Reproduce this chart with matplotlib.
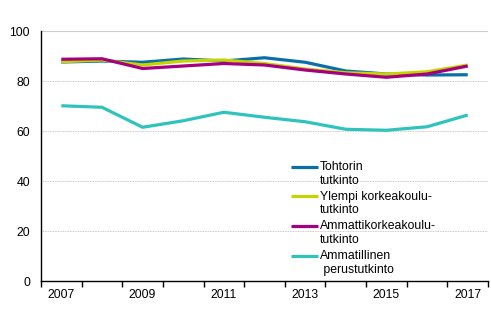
import matplotlib.pyplot as plt
import numpy as np
from matplotlib.legend_handler import HandlerLine2D

plt.rcParams['font.family'] = ['Liberation Sans', 'DejaVu Sans']

years = ['2007', '2008', '2009', '2010', '2011', '2012', '2013', '2014', '2015', '2016', '2017']
tohtori = [87.6, 88.0, 87.5, 88.8, 88.0, 89.3, 87.5, 84.0, 82.8, 82.4, 82.5]
ylempi = [87.7, 88.4, 86.4, 88.0, 88.4, 87.0, 84.8, 83.3, 82.8, 83.7, 86.4]
amk = [88.7, 88.9, 85.0, 86.0, 87.0, 86.4, 84.4, 82.8, 81.5, 82.8, 86.0]
ammatillinen = [70.1, 69.5, 61.5, 64.1, 67.5, 65.5, 63.7, 60.7, 60.3, 61.7, 66.4]

labels = ['Tohtorin\ntutkinto', 'Ylempi korkeakoulu-\ntutkinto',
          'Ammattikorkeakoulu-\ntutkinto', 'Ammatillinen\n perustutkinto']
colors = ['#0a6fa8', '#c5d400', '#a5007f', '#2ec4bc']
fs = 8.8


# legend line sits next to the first text line, not in the middle
class TopLine(HandlerLine2D):
    def create_artists(self, legend, orig_handle, xdescent, ydescent,
                       width, height, fontsize, trans):
        arts = super().create_artists(legend, orig_handle, xdescent, ydescent,
                                      width, height, fontsize, trans)
        for a in arts:
            a.set_ydata(np.asarray(a.get_ydata()) + 0.6 * fontsize)
        return arts


fig = plt.figure(figsize=(4.91, 3.32), dpi=100)
ax = fig.add_axes([0.0835, 0.1536, 0.9105, 0.753])

x = np.arange(len(years))
for vals, lab, col in zip([tohtori, ylempi, amk, ammatillinen], labels, colors):
    ax.plot(x, vals, color=col, lw=2.3, label=lab, solid_capstyle='butt')

ax.set_xlim(-0.5, len(years) - 0.5)
ax.set_ylim(0, 100)
ax.set_yticks([0, 20, 40, 60, 80, 100])
ax.tick_params(axis='y', length=0, labelsize=fs, pad=8)

# boundary ticks, labels every other year at centers
ax.set_xticks(np.arange(-0.5, len(years), 1.0))
ax.set_xticklabels([])
ax.set_xticks(x[::2], minor=True)
ax.set_xticklabels(years[::2], minor=True)
ax.tick_params(axis='x', which='major', length=4, width=1, direction='out')
ax.tick_params(axis='x', which='minor', length=0, labelsize=fs, pad=6)

for y in [20, 40, 60, 80]:
    ax.axhline(y, color='#b8b8b8', lw=0.6, ls=(0, (1, 1)), zorder=0)
ax.axhline(100, color='#cccccc', lw=0.8, zorder=0)

for s in ['top', 'right']:
    ax.spines[s].set_visible(False)
ax.spines['left'].set_linewidth(1)
ax.spines['bottom'].set_linewidth(1)

ax.legend(loc='upper left', bbox_to_anchor=(0.548, 0.50), frameon=False,
          fontsize=fs, handlelength=2.2, handletextpad=0.17,
          labelspacing=0.32, borderaxespad=0,
          handler_map={plt.Line2D: TopLine()})

fig.savefig('out.png', dpi=100)
